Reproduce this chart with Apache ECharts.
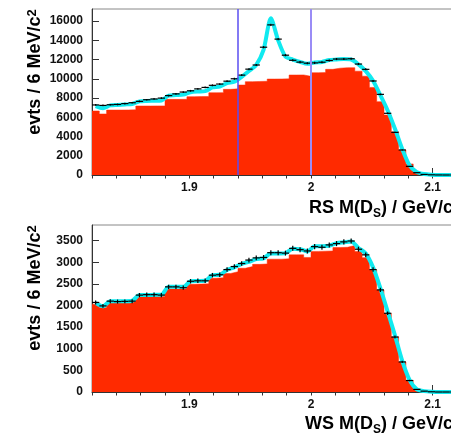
<!DOCTYPE html>
<html>
<head>
<meta charset="utf-8">
<script src="https://cdn.jsdelivr.net/npm/echarts@6/dist/echarts.min.js"></script>
</head>
<body style="margin:0">
<div id="main" style="width:451px;height:435px"></div>
<script>
// 50 bins of 6 MeV, 1.82 - 2.12 GeV
var binStart = 1.82;
var binWidth = 0.006;
var xMax = 2.12;

// RS panel
var rsBackground = [6650, 6340, 6750, 6750, 6760, 6780, 7170, 7170, 7180, 7180,
  7860, 7860, 7870, 8140, 8150, 8150, 8550, 8560, 8900, 8950,
  9350, 9700, 9720, 9740, 9970, 9980, 9990, 10390, 10400, 10250,
  10630, 10640, 10980, 11100, 11150, 11150, 10790, 10270, 9100, 7620,
  6230, 4500, 2600, 1150, 240, 100, 40, 0, 0, 0];
var rsData = [7280, 7230, 7300, 7330, 7420, 7510, 7650, 7820, 7900, 7990,
  8250, 8430, 8620, 8750, 8950, 9100, 9320, 9450, 9750, 10000,
  10380, 11000, 11430, 13280, 15600, 14120, 12450, 11920, 11730, 11620,
  11650, 11720, 11900, 12050, 12050, 12080, 11530, 10980, 9770, 8380,
  6410, 4430, 2600, 900, 240, 60, 20, 5, 0, 0];
var rsFit = [7150, 6930, 7230, 7280, 7330, 7380, 7650, 7700, 7720, 7750,
  8250, 8300, 8350, 8600, 8680, 8720, 9100, 9180, 9550, 9700,
  10200, 10800, 11450, 13000, 16300, 14000, 12300, 12000, 11750, 11550,
  11700, 11750, 11950, 12000, 12050, 12000, 11500, 10800, 9800, 8300,
  6700, 4800, 2700, 1000, 300, 100, 30, 0, 0, 0];
var rsCuts = [1.94, 2.0];

// WS panel
var wsBackground = [2030, 1950, 2070, 2070, 2075, 2080, 2200, 2200, 2205, 2210,
  2380, 2380, 2385, 2490, 2495, 2500, 2630, 2640, 2740, 2780,
  2860, 2900, 2950, 2960, 3070, 3070, 3080, 3170, 3170, 3110,
  3250, 3255, 3260, 3340, 3345, 3385, 3245, 3105, 2820, 2356,
  1815, 1275, 695, 270, 54, 20, 5, 0, 0, 0];
var wsData = [2070, 1990, 2100, 2090, 2095, 2100, 2240, 2250, 2250, 2240,
  2430, 2430, 2410, 2560, 2570, 2570, 2700, 2710, 2830, 2900,
  2970, 3050, 3100, 3110, 3220, 3220, 3210, 3320, 3290, 3260,
  3360, 3345, 3400, 3430, 3470, 3490, 3300, 3170, 2830, 2360,
  1820, 1270, 695, 265, 60, 20, 5, 0, 0, 0];
var wsFit = [2060, 1980, 2100, 2100, 2100, 2110, 2240, 2240, 2245, 2250,
  2430, 2430, 2430, 2560, 2565, 2570, 2700, 2710, 2820, 2880,
  2960, 3010, 3070, 3090, 3200, 3200, 3210, 3310, 3300, 3250,
  3370, 3370, 3380, 3440, 3460, 3480, 3330, 3200, 2880, 2400,
  1860, 1310, 720, 280, 60, 20, 5, 0, 0, 0];

var red = '#ff2a00';
var cyan = '#10eaf0';
var tickFont = { fontFamily: '"Liberation Sans", Arial', fontWeight: 'bold', fontSize: 12, color: '#111' };

function stepData(vals) {
  var d = vals.map(function (v, i) { return [binStart + i * binWidth, v]; });
  d.push([xMax, vals[vals.length - 1]]);
  return d;
}
function centerData(vals) {
  return vals.map(function (v, i) { return [binStart + (i + 0.5) * binWidth, v]; });
}

function renderPoint(params, api) {
  var x = api.value(0), v = api.value(1);
  var err = Math.sqrt(v);
  var a = api.coord([x - binWidth / 2, v]);
  var b = api.coord([x + binWidth / 2, v]);
  var up = api.coord([x, v + err]);
  var dn = api.coord([x, Math.max(v - err, 0)]);
  var st = { stroke: '#000', lineWidth: 1.2 };
  return {
    type: 'group',
    children: [
      { type: 'line', shape: { x1: a[0], y1: a[1], x2: b[0], y2: b[1] }, style: st },
      { type: 'line', shape: { x1: up[0], y1: up[1], x2: dn[0], y2: dn[1] }, style: st }
    ]
  };
}

function plain(v) { return String(v); }

function xAxes(grid) {
  return [{
    type: 'value', gridIndex: grid, min: binStart, max: xMax, splitNumber: 3,
    axisLine: { lineStyle: { color: '#333', width: 1 } },
    axisTick: { inside: true, length: 7, lineStyle: { color: '#333' } },
    axisLabel: Object.assign({ margin: 7, showMinLabel: false, showMaxLabel: false, formatter: plain }, tickFont),
    splitLine: { show: false }
  }, {
    type: 'value', gridIndex: grid, min: binStart, max: xMax, interval: 0.02,
    axisLine: { show: false },
    axisTick: { inside: true, length: 3.5, lineStyle: { color: '#333' } },
    axisLabel: { show: false },
    splitLine: { show: false }
  }];
}
function yAxes(grid, max, step) {
  return [{
    type: 'value', gridIndex: grid, min: 0, max: max, interval: step,
    axisLine: { show: true, lineStyle: { color: '#333', width: 1 } },
    axisTick: { show: true, inside: true, length: 7, lineStyle: { color: '#333' } },
    axisLabel: Object.assign({ margin: 9, showMaxLabel: false, formatter: plain }, tickFont),
    splitLine: { show: false }
  }, {
    type: 'value', gridIndex: grid, min: 0, max: max, interval: step / 2,
    axisLine: { show: false },
    axisTick: { show: true, inside: true, length: 4, lineStyle: { color: '#333' } },
    axisLabel: { show: false },
    splitLine: { show: false }
  }];
}

function panelSeries(xi, yi, bg, data, fit, cuts) {
  var s = [{
    type: 'line', xAxisIndex: xi, yAxisIndex: yi, data: stepData(bg), step: 'end',
    symbol: 'none', lineStyle: { width: 0.5, color: red }, areaStyle: { color: red, opacity: 1 },
    silent: true, z: 1
  }, {
    type: 'line', xAxisIndex: xi, yAxisIndex: yi, data: centerData(fit),
    symbol: 'none', smooth: 0.25, lineStyle: { width: 4, color: cyan }, silent: true, z: 2
  }, {
    type: 'custom', xAxisIndex: xi, yAxisIndex: yi, data: centerData(data),
    renderItem: renderPoint, encode: { x: 0, y: 1 }, silent: true, z: 3
  }];
  if (cuts) {
    s.push({
      type: 'line', xAxisIndex: xi, yAxisIndex: yi, data: [], z: 4,
      markLine: {
        silent: true, symbol: 'none', label: { show: false },
        data: [
          { xAxis: cuts[0], lineStyle: { color: '#5a4ef0', width: 1.5, type: 'solid' } },
          { xAxis: cuts[1], lineStyle: { color: '#9a8cf6', width: 2, type: 'solid' } }
        ]
      }
    });
  }
  return s;
}

function yTitle(cy) {
  return {
    type: 'text', x: 35, y: cy, rotation: Math.PI / 2,
    style: {
      text: '{a|evts / 6 MeV/c}{s|2}',
      align: 'center', verticalAlign: 'middle',
      rich: {
        a: { fontFamily: '"Liberation Sans", Arial', fontWeight: 'bold', fontSize: 18, fill: '#000', verticalAlign: 'bottom' },
        s: { fontFamily: '"Liberation Sans", Arial', fontWeight: 'bold', fontSize: 13, fill: '#000', verticalAlign: 'top' }
      }
    }
  };
}
function xTitle(label, cy) {
  return {
    type: 'text', x: 453, y: cy,
    style: {
      text: '{a|' + label + ' M(D}{s|S}{a|) / GeV/c}',
      align: 'right', verticalAlign: 'middle',
      rich: {
        a: { fontFamily: '"Liberation Sans", Arial', fontWeight: 'bold', fontSize: 18, fill: '#000', verticalAlign: 'top', lineHeight: 20 },
        s: { fontFamily: '"Liberation Sans", Arial', fontWeight: 'bold', fontSize: 12, fill: '#000', verticalAlign: 'top', padding: [9, 0, 0, 0], lineHeight: 14 }
      }
    }
  };
}

var chart = echarts.init(document.getElementById('main'));
chart.setOption({
  animation: false,
  grid: [
    { left: 92, top: 9, width: 365, height: 166, show: true, borderColor: '#888', borderWidth: 1, outerBoundsMode: 'none' },
    { left: 92, top: 225, width: 365, height: 167, show: true, borderColor: '#888', borderWidth: 1, outerBoundsMode: 'none' }
  ],
  xAxis: xAxes(0).concat(xAxes(1)),
  yAxis: yAxes(0, 17250, 2000).concat(yAxes(1, 3860, 500)),
  series: panelSeries(0, 0, rsBackground, rsData, rsFit, rsCuts)
    .concat(panelSeries(2, 2, wsBackground, wsData, wsFit, null)),
  graphic: [yTitle(72), yTitle(288), xTitle('RS', 209), xTitle('WS', 425)]
});
</script>
</body>
</html>
